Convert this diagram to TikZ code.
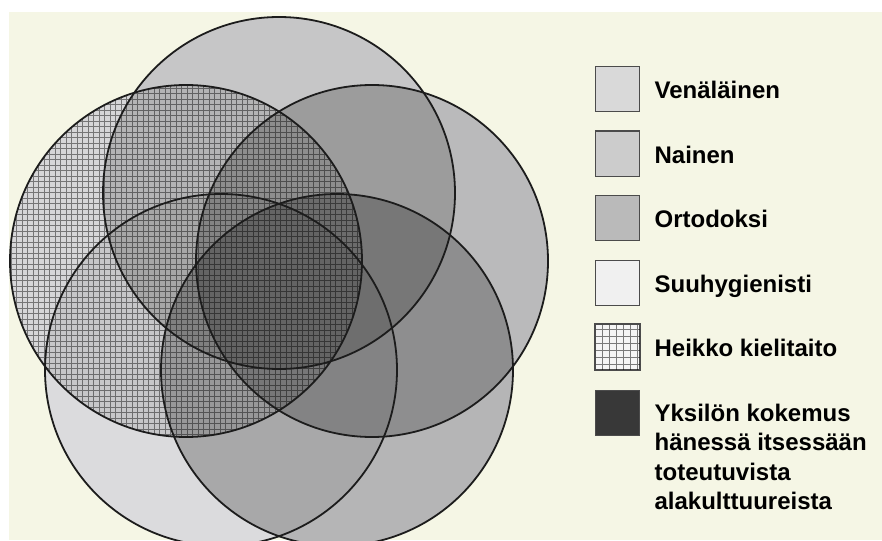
\documentclass[tikz,border=0pt]{standalone}
\usepackage{fontspec}
\setmainfont{Liberation Sans}
\usepackage{xcolor}
\usepackage{tikz}
\usetikzlibrary{positioning,calc}
\definecolor{paperCream}{RGB}{245,246,229}
\definecolor{setBase}{RGB}{236,236,238}
\definecolor{rimGray}{RGB}{28,28,28}
\definecolor{keyRim}{RGB}{75,75,75}

\begin{document}
\begin{tikzpicture}[x=1pt,y=-1pt,
  set/.style={circle,minimum size=352pt,inner sep=0pt,fill=black,fill opacity=#1},
  rim/.style={draw=rimGray,line width=1.8pt},
  mesh/.style={draw=black,draw opacity=0.45,line width=0.7pt},
  key/.style={rectangle,draw=keyRim,line width=1.4pt,fill=#1,
              minimum width=44pt,minimum height=45pt,inner sep=0pt,anchor=north west},
  lbl/.style={anchor=base west,inner sep=0pt,align=left,
              font=\bfseries\fontsize{24}{29.3}\selectfont}
]
\useasboundingbox (0,0) rectangle (882,540);
% Paper
\fill[white] (0,0) rectangle (882,540);
\fill[paperCream] (9,12) rectangle (882,540);

% Five overlapping sets
\foreach \x/\y in {279/193, 372/261, 337/370, 221/370, 186/261}
  \fill[setBase] (\x,\y) circle (176pt);
\foreach \id/\x/\y/\op in {ven/279/193/0.16, nai/372/261/0.21, ort/337/370/0.23,
                           suu/221/370/0.07, hei/186/261/0.09}
  \node[set=\op] (\id) at (\x,\y) {};

% Grid texture of the language set
\begin{scope}
  \clip (hei.center) circle (176pt);
  \draw[mesh,step=5.5pt] (0,450) grid (380,70);
\end{scope}

\foreach \id in {ven,nai,ort,suu,hei}
  \draw[rim] (\id.center) circle (176pt);

% Legend
\foreach \k/\col/\txt [count=\i] in {
  kven/black!15/Venäläinen,
  knai/black!20/Nainen,
  kort/black!27/Ortodoksi,
  ksuu/black!6/Suuhygienisti,
  khei/black!4/Heikko kielitaito}
{
  \node[key=\col] (\k) at (595,{66+64.5*(\i-1)}) {};
  \node[lbl] (t\k) at ($(\k.east)+(14pt,-9.5pt)$) {\txt};
}
\node[key=black!78, below=19.5pt of khei] (kyks) {};
\node[lbl,anchor=north west] (tkyks) at ($(kyks.north east)+(14pt,-14pt)$)
  {Yksilön kokemus\\hänessä itsessään\\toteutuvista\\alakulttuureista};

\begin{scope}
  \clip (khei.south west) rectangle (khei.north east);
  \draw[mesh,draw opacity=0.5,step=7pt] (khei.south west) grid (khei.north east);
\end{scope}
\draw[keyRim,line width=1.4pt] (khei.south west) rectangle (khei.north east);
\end{tikzpicture}
\end{document}
